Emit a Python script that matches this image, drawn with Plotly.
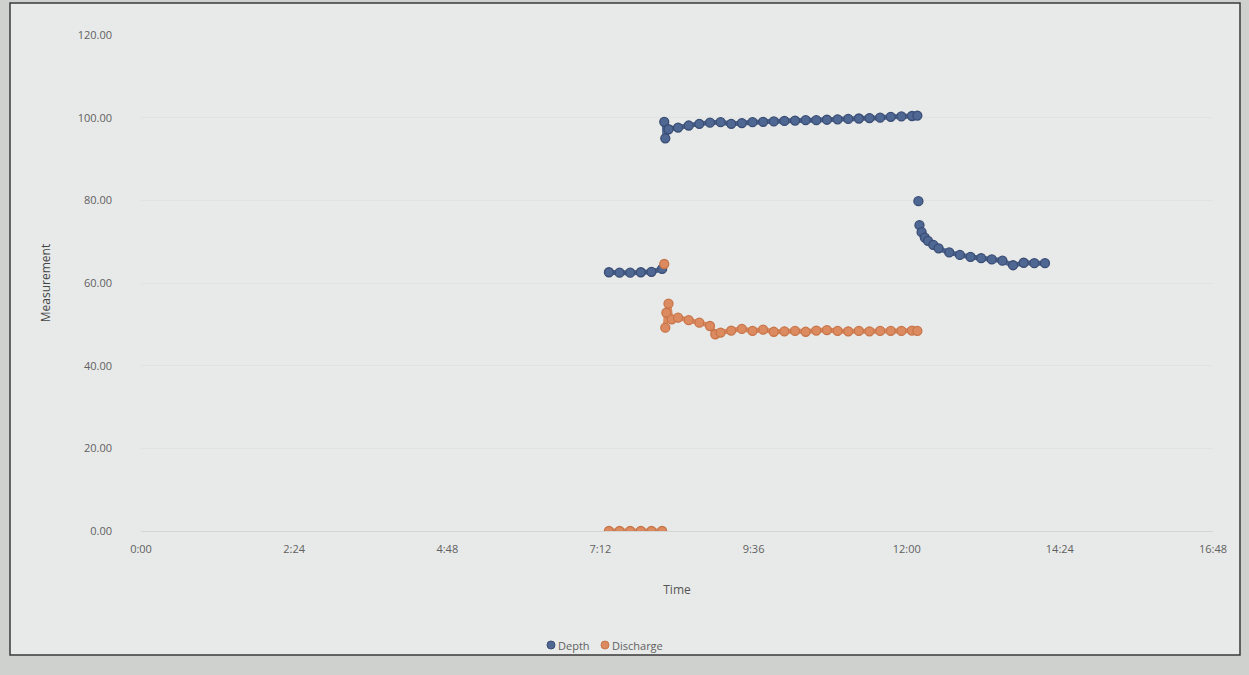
import plotly.graph_objects as go

# ---- data (time as HH:MM, value) ----
depth_seg1_t = ["7:20", "7:30", "7:40", "7:50", "8:00", "8:10"]
depth_seg1_v = [62.6, 62.5, 62.5, 62.6, 62.7, 63.4]

depth_seg2_t = ["8:12", "8:13", "8:16", "8:25", "8:35", "8:45", "8:55", "9:05", "9:15",
                "9:25", "9:35", "9:45", "9:55", "10:05", "10:15", "10:25", "10:35", "10:45",
                "10:55", "11:05", "11:15", "11:25", "11:35", "11:45", "11:55", "12:05", "12:10"]
depth_seg2_v = [99.0, 95.0, 97.2, 97.6, 98.1, 98.5, 98.8, 98.9, 98.5,
                98.7, 98.9, 99.0, 99.1, 99.2, 99.3, 99.4, 99.4, 99.5,
                99.6, 99.7, 99.8, 99.9, 100.0, 100.2, 100.3, 100.4, 100.5]

depth_seg3_t = ["12:11"]
depth_seg3_v = [79.8]

depth_seg4_t = ["12:12", "12:14", "12:17", "12:20", "12:25", "12:30", "12:40", "12:50",
                "13:00", "13:10", "13:20", "13:30", "13:40", "13:50", "14:00", "14:10"]
depth_seg4_v = [74.0, 72.3, 71.0, 70.2, 69.2, 68.4, 67.4, 66.8,
                66.3, 66.0, 65.7, 65.4, 64.3, 64.9, 64.8, 64.8]

dis_seg1_t = ["7:20", "7:30", "7:40", "7:50", "8:00", "8:10"]
dis_seg1_v = [0.0, 0.0, 0.0, 0.0, 0.0, 0.0]

dis_seg2_t = ["8:12"]
dis_seg2_v = [64.6]

dis_seg3_t = ["8:13", "8:14", "8:16", "8:19", "8:25", "8:35", "8:45", "8:55", "9:00", "9:05",
              "9:15", "9:25", "9:35", "9:45", "9:55", "10:05", "10:15", "10:25", "10:35",
              "10:45", "10:55", "11:05", "11:15", "11:25", "11:35", "11:45", "11:55", "12:05", "12:10"]
dis_seg3_v = [49.2, 52.8, 55.0, 51.2, 51.6, 51.0, 50.4, 49.6, 47.6, 48.0,
              48.5, 48.9, 48.4, 48.7, 48.2, 48.3, 48.4, 48.2, 48.5,
              48.6, 48.4, 48.3, 48.4, 48.3, 48.4, 48.4, 48.4, 48.5, 48.4]

x_tickvals_hm = ["0:00", "2:24", "4:48", "7:12", "9:36", "12:00", "14:24", "16:48"]
y_tickvals = [0, 20, 40, 60, 80, 100, 120]


def frac(s):
    h, m = s.split(":")
    return (int(h) * 60 + int(m)) / 1440.0


def join(*segs):
    xs, ys = [], []
    for i, (t, v) in enumerate(segs):
        if i:
            xs.append(None)
            ys.append(None)
        xs += [frac(s) for s in t]
        ys += list(v)
    return xs, ys


dx, dy = join((depth_seg1_t, depth_seg1_v), (depth_seg2_t, depth_seg2_v),
              (depth_seg3_t, depth_seg3_v), (depth_seg4_t, depth_seg4_v))
qx, qy = join((dis_seg1_t, dis_seg1_v), (dis_seg2_t, dis_seg2_v), (dis_seg3_t, dis_seg3_v))

BLUE = "#4e6793"
BLUE_D = "#3a4d74"
ORANGE = "#dc8b60"
ORANGE_D = "#c8754a"

fig = go.Figure()
for name, xs, ys, c, cd in [("Depth", dx, dy, BLUE, BLUE_D), ("Discharge", qx, qy, ORANGE, ORANGE_D)]:
    fig.add_trace(go.Scatter(
        x=xs, y=ys, name=name, mode="lines+markers", showlegend=False,
        line=dict(color=c, width=5, shape="spline", smoothing=0.6),
        marker=dict(size=9, color=c, line=dict(color=cd, width=1.3)),
        connectgaps=False))

L, R, T, B = 141, 36, 35, 144
PW, PH = 1249 - L - R, 675 - T - B


def px_x(p):
    return (p - L) / PW


def px_y(p):
    return (675 - B - p) / PH


# chart frame (photo of Excel chart)
fig.add_shape(type="rect", xref="paper", yref="paper",
              x0=px_x(10), x1=px_x(1240), y0=px_y(655), y1=px_y(3),
              fillcolor="#e8eae9", line=dict(color="#3a3a3a", width=1.5), layer="below")

# legend (marker-only entries, tightly spaced like the Excel legend)
legend_items = [("Depth", BLUE, BLUE_D, 551), ("Discharge", ORANGE, ORANGE_D, 605)]
for name, c, cd, xpos in legend_items:
    fig.add_shape(type="circle", xref="paper", yref="paper",
                  xsizemode="pixel", ysizemode="pixel",
                  xanchor=px_x(xpos), yanchor=px_y(645),
                  x0=-4, x1=4, y0=-4, y1=4,
                  fillcolor=c, line=dict(color=cd, width=1))
    fig.add_annotation(
        xref="paper", yref="paper", x=px_x(xpos + 5), y=px_y(645), xanchor="left", yanchor="middle",
        text=name, showarrow=False, font=dict(size=11, color="#616161"))

fig.update_layout(
    width=1249, height=675,
    margin=dict(l=L, r=R, t=T, b=B),
    paper_bgcolor="#cfd1cf",
    plot_bgcolor="rgba(0,0,0,0)",
    font=dict(family="Open Sans", size=11, color="#616161"),
    showlegend=False,
    xaxis=dict(
        range=[0, 0.7], tickvals=[frac(s) for s in x_tickvals_hm], ticktext=x_tickvals_hm,
        showgrid=False, zeroline=False, showline=True, linecolor="#d3d5d3", linewidth=1,
        ticks="", ticklabelstandoff=8,
        title=dict(text="Time", font=dict(size=12, color="#555555"), standoff=30)),
    yaxis=dict(
        range=[0, 120], tickvals=y_tickvals, tickformat=".2f",
        showgrid=True, gridcolor="#e1e3e2", gridwidth=1, zeroline=False, showline=False,
        ticks="", ticklabelstandoff=28,
        title=dict(text="Measurement", font=dict(size=12, color="#444444"), standoff=24)),
)

fig.write_html("out.html", config={"displayModeBar": False},
               post_script="document.body.style.margin='0';document.body.style.background='#cfd1cf';")
